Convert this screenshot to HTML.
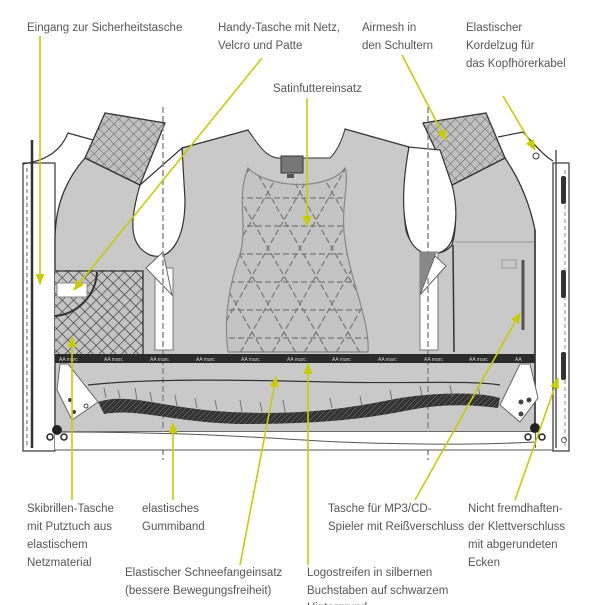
<!DOCTYPE html>
<html><head><meta charset="utf-8"><style>
html,body{margin:0;padding:0;background:#fff;}
svg{display:block}
text{font-family:"Liberation Sans",sans-serif;font-size:11.5px;fill:#555;}
</style></head><body>
<svg width="600" height="605" viewBox="0 0 600 605" xmlns="http://www.w3.org/2000/svg">
<defs>
<pattern id="mesh" width="7" height="7" patternUnits="userSpaceOnUse" patternTransform="rotate(45)">
<rect width="7" height="7" fill="#c0c0c0"/><path d="M0 0H7M0 0V7" stroke="#666" stroke-width="1.1"/></pattern>
<pattern id="mesh2" width="8" height="8" patternUnits="userSpaceOnUse" patternTransform="rotate(45)">
<rect width="8" height="8" fill="#c4c4c4"/><path d="M0 0H8M0 0V8" stroke="#333" stroke-width="1.2"/></pattern>
<pattern id="hatch" width="4" height="4" patternUnits="userSpaceOnUse" patternTransform="rotate(45)">
<rect width="4" height="4" fill="#333"/><path d="M0 0V4" stroke="#777" stroke-width="1"/></pattern>
<clipPath id="quilt"><path d="M248 168 C235 200 250 230 238 260 C225 300 225 330 228 352 L368 352 C370 320 350 280 345 240 C340 210 350 180 345 168 C330 190 270 190 248 168Z"/></clipPath>
<marker id="ar" viewBox="0 0 10 10" refX="9" refY="5" markerWidth="7" markerHeight="7" orient="auto"><path d="M0 1L10 5L0 9z" fill="#c8cc00"/></marker>
</defs>

<rect x="23" y="163" width="32" height="288" fill="#fff" stroke="#333" stroke-width="1.2"/>
<line x1="32" y1="140" x2="32" y2="448" stroke="#333" stroke-width="2.5"/>
<line x1="27" y1="168" x2="27" y2="446" stroke="#666" stroke-dasharray="4 3"/>
<rect x="553" y="163" width="16" height="288" fill="#fff" stroke="#333" stroke-width="1.2"/>
<line x1="556" y1="150" x2="556" y2="448" stroke="#555" stroke-width="1.5"/>
<line x1="565" y1="170" x2="565" y2="446" stroke="#888" stroke-dasharray="4 3"/>
<rect x="561" y="176" width="5" height="28" rx="2" fill="#333"/>
<rect x="561" y="270" width="5" height="28" rx="2" fill="#333"/>
<rect x="561" y="352" width="5" height="28" rx="2" fill="#333"/>

<path d="M55 240 C55 200 70 175 85 158 L140 185 C135 210 130 240 148 252 C165 262 180 240 184 210 L182 148 L248 130 C255 140 262 145 270 146 L325 146 C335 145 340 138 345 129 L409 147 C405 180 402 205 406 230 C412 255 440 260 452 245 C458 225 455 200 452 185 L505 158 C520 180 530 205 535 230 L535 432 L55 432Z" fill="#c9c9c9" stroke="#333" stroke-width="1.3"/>
<path d="M248 130 C262 150 268 160 285 158 L330 158 C338 150 342 140 345 129" fill="#fff" stroke="#333"/>
<path d="M105 113 L165 123 L140 185 L85 158Z" fill="url(#mesh)" stroke="#333" stroke-width="1.3"/>
<path d="M423 123 L486 113 L505 158 L452 185Z" fill="url(#mesh)" stroke="#333" stroke-width="1.3"/>
<path d="M23 164 C50 160 62 148 68 133 L93 140" fill="none" stroke="#333" stroke-width="1.2"/>
<path d="M498 137 L523 132 C535 145 543 155 553 161" fill="none" stroke="#333" stroke-width="1.2"/>
<circle cx="536" cy="156" r="3" fill="#fff" stroke="#333"/>

<path d="M140 185 C130 220 128 245 150 255 C170 262 185 240 185 200 L182 148 Z" fill="#fff" stroke="#333" stroke-width="1.2"/>
<path d="M409 147 C403 180 400 215 410 240 C420 260 445 258 452 240 C458 220 456 200 452 185 L440 150Z" fill="#fff" stroke="#333" stroke-width="1.2"/>

<path d="M248 168 C235 200 250 230 238 260 C225 300 225 330 228 352 L368 352 C370 320 350 280 345 240 C340 210 350 180 345 168 C330 190 270 190 248 168Z" fill="#c4c4c4" stroke="#888" stroke-width="1.2"/>
<g clip-path="url(#quilt)" stroke="#777" stroke-width="1.2" stroke-dasharray="6 3" fill="none">
<path d="M220 198H380M220 226H380M220 254H380M220 282H380M220 310H380M220 338H380"/>
<path d="M140 360L260 150M172 360L292 150M204 360L324 150M236 360L356 150M268 360L388 150M300 360L420 150M332 360L452 150M108 360L228 150"/>
<path d="M460 360L340 150M428 360L308 150M396 360L276 150M364 360L244 150M332 360L212 150M300 360L180 150M268 360L148 150M492 360L372 150"/>
</g>
<rect x="281" y="156" width="22" height="17" fill="#777" stroke="#333"/>
<rect x="287" y="174" width="7" height="4" fill="#555"/>

<rect x="55" y="270" width="88" height="85" fill="url(#mesh2)"/>
<path d="M55 271 H143 V355" fill="none" stroke="#333" stroke-width="1.3"/>
<rect x="57" y="283" width="30" height="14" fill="#fff" stroke="#888"/>
<path d="M97 272 C96 295 78 314 55 316" fill="none" stroke="#333" stroke-width="2"/>
<rect x="155" y="268" width="18" height="82" fill="#fff" stroke="#777"/>
<path d="M146 268 L163 252 L172 295Z" fill="#fff" stroke="#666"/>
<rect x="420" y="252" width="18" height="98" fill="#fff" stroke="#777"/>
<path d="M420 252 L437 252 L420 295Z" fill="#888"/>
<path d="M420 295 L435 256 L446 266Z" fill="#fff" stroke="#666"/>
<line x1="453" y1="245" x2="454" y2="352" stroke="#333" stroke-width="1.5"/>
<line x1="455" y1="242" x2="535" y2="242" stroke="#999"/>
<line x1="523" y1="260" x2="523" y2="330" stroke="#555" stroke-width="3"/>
<rect x="502" y="260" width="14" height="8" fill="none" stroke="#999"/>
<line x1="535" y1="230" x2="535" y2="448" stroke="#333" stroke-width="1.5"/>

<line x1="163" y1="107" x2="163" y2="460" stroke="#888" stroke-width="1.5" stroke-dasharray="6 3"/>
<line x1="428" y1="107" x2="428" y2="460" stroke="#888" stroke-width="1.5" stroke-dasharray="6 3"/>

<rect x="55" y="354" width="480" height="9" fill="#2b2b2b"/>
<g>
<text x="59" y="361" style="font-size:5px;fill:#ccc">AA marc</text><text x="104" y="361" style="font-size:5px;fill:#ccc">AA marc</text><text x="150" y="361" style="font-size:5px;fill:#ccc">AA marc</text><text x="196" y="361" style="font-size:5px;fill:#ccc">AA marc</text><text x="241" y="361" style="font-size:5px;fill:#ccc">AA marc</text><text x="287" y="361" style="font-size:5px;fill:#ccc">AA marc</text><text x="332" y="361" style="font-size:5px;fill:#ccc">AA marc</text><text x="378" y="361" style="font-size:5px;fill:#ccc">AA marc</text><text x="424" y="361" style="font-size:5px;fill:#ccc">AA marc</text><text x="469" y="361" style="font-size:5px;fill:#ccc">AA marc</text><text x="515" y="361" style="font-size:5px;fill:#ccc">AA</text>
</g>
<path d="M88 385 C150 378 250 380 330 382 C400 384 470 380 500 385" fill="none" stroke="#333" stroke-width="1.2"/>
<path d="M98 402 C130 392 160 408 230 412 C300 415 340 410 400 398 C440 392 480 392 500 398 L498 408 C470 404 440 404 410 410 C350 422 300 424 240 424 C170 422 140 408 104 414Z" fill="url(#hatch)"/>
<g stroke="#777" fill="none">
<path d="M104 388L106 398M118 390L120 398M135 388L137 400M150 392L152 402M175 395L177 406M195 398L197 408M215 400L217 410M240 400L242 412M260 402L262 412M283 400L285 412M330 398L332 408M360 396L362 406M390 390L392 400M420 386L422 396M450 385L452 396M478 386L480 396"/>
</g>
<path d="M60 364 L68 364 L98 402 L72 420 L57 390Z" fill="#fff" stroke="#666"/>
<circle cx="70" cy="400" r="2" fill="#444"/><circle cx="74" cy="412" r="2" fill="#444"/><circle cx="86" cy="406" r="2" fill="none" stroke="#444"/>
<path d="M530 364 L520 364 L500 405 L520 422 L538 398Z" fill="#fff" stroke="#666"/>
<circle cx="521" cy="402" r="2.5" fill="#444"/><circle cx="529" cy="400" r="2.5" fill="#444"/><circle cx="521" cy="414" r="2.5" fill="#444"/>
<path d="M55 432 L535 432 L535 450 L55 450Z" fill="#fff"/>
<path d="M55 432 C200 432 260 438 340 442 C420 445 480 445 535 442" fill="none" stroke="#555"/>
<path d="M55 450 L553 450" stroke="#555"/>
<circle cx="57" cy="430" r="5" fill="#222"/><circle cx="50" cy="437" r="3" fill="none" stroke="#222" stroke-width="1.5"/><circle cx="64" cy="437" r="3" fill="none" stroke="#222" stroke-width="1.5"/>
<circle cx="535" cy="428" r="5" fill="#222"/><circle cx="528" cy="437" r="3" fill="none" stroke="#222" stroke-width="1.5"/><circle cx="542" cy="437" r="3" fill="none" stroke="#222" stroke-width="1.5"/>
<circle cx="564" cy="440" r="2.5" fill="none" stroke="#555"/>

<g stroke="#c8cc00" stroke-width="1.6" fill="none" marker-end="url(#ar)">
<line x1="40" y1="36" x2="40" y2="284"/>
<line x1="262" y1="58" x2="74" y2="290"/>
<line x1="402" y1="55" x2="446" y2="140"/>
<line x1="503" y1="96" x2="535" y2="150"/>
<line x1="307" y1="98" x2="307" y2="226"/>
<line x1="72" y1="500" x2="72" y2="337"/>
<line x1="173" y1="500" x2="173" y2="423"/>
<line x1="240" y1="565" x2="276" y2="377"/>
<line x1="308" y1="565" x2="308" y2="364"/>
<line x1="415" y1="500" x2="520" y2="313"/>
<line x1="515" y1="500" x2="558" y2="378"/>
</g>

<text x="27" y="31">Eingang zur Sicherheitstasche</text>
<text x="218" y="31">Handy-Tasche mit Netz,</text>
<text x="218" y="49">Velcro und Patte</text>
<text x="362" y="31">Airmesh in</text>
<text x="362" y="49">den Schultern</text>
<text x="466" y="31">Elastischer</text>
<text x="466" y="49">Kordelzug für</text>
<text x="466" y="67">das Kopfhörerkabel</text>
<text x="273" y="92">Satinfuttereinsatz</text>
<text x="27" y="512">Skibrillen-Tasche</text>
<text x="27" y="530">mit Putztuch aus</text>
<text x="27" y="548">elastischem</text>
<text x="27" y="566">Netzmaterial</text>
<text x="142" y="512">elastisches</text>
<text x="142" y="530">Gummiband</text>
<text x="328" y="512">Tasche für MP3/CD-</text>
<text x="328" y="530">Spieler mit Reißverschluss</text>
<text x="468" y="512">Nicht fremdhaften-</text>
<text x="468" y="530">der Klettverschluss</text>
<text x="468" y="548">mit abgerundeten</text>
<text x="468" y="566">Ecken</text>
<text x="125" y="576">Elastischer Schneefangeinsatz</text>
<text x="125" y="594">(bessere Bewegungsfreiheit)</text>
<text x="307" y="576">Logostreifen in silbernen</text>
<text x="307" y="594">Buchstaben auf schwarzem</text>
<text x="307" y="611">Hintergrund</text>
</svg>
</body></html>
